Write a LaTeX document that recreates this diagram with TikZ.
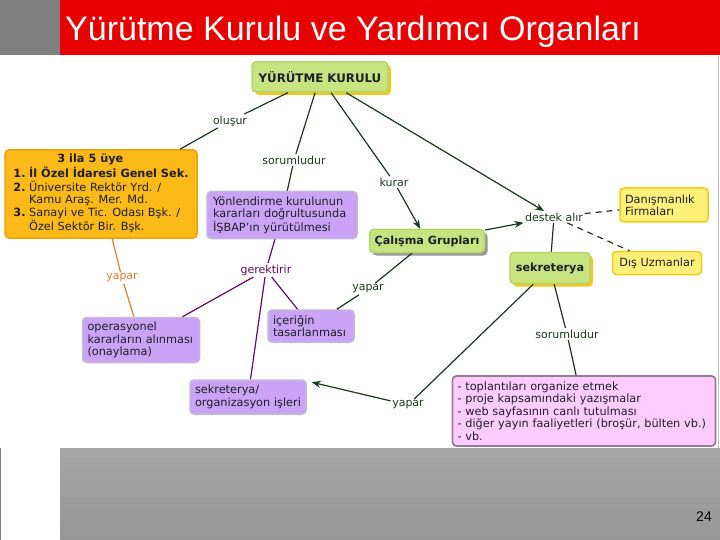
\documentclass[tikz,border=0pt]{standalone}
\usepackage{fontspec}
\setmainfont{DejaVu Sans}
\newfontfamily\titlefont{Liberation Sans}
\usetikzlibrary{arrows.meta,shadows}
\definecolor{hdrred}{RGB}{232,0,0}
\definecolor{hdrgray}{RGB}{128,128,128}
\definecolor{edgegray}{RGB}{190,190,190}
\definecolor{ftop}{RGB}{166,166,166}
\definecolor{fbot}{RGB}{150,150,150}
\definecolor{grnfill}{RGB}{200,228,128}
\definecolor{grndraw}{RGB}{182,212,104}
\definecolor{shyel}{RGB}{242,200,30}
\definecolor{shgray}{RGB}{150,150,150}
\definecolor{gldfill}{RGB}{251,186,24}
\definecolor{glddraw}{RGB}{238,160,10}
\definecolor{purfill}{RGB}{202,162,246}
\definecolor{purdraw}{RGB}{196,184,214}
\definecolor{yelfill}{RGB}{255,240,122}
\definecolor{yeldraw}{RGB}{244,204,20}
\definecolor{pinkfill}{RGB}{255,204,255}
\definecolor{pinkdraw}{RGB}{150,122,150}
\definecolor{lnk}{RGB}{26,56,26}
\definecolor{lnkpur}{RGB}{100,10,100}
\definecolor{lnkor}{RGB}{232,122,40}
\definecolor{txt}{RGB}{30,30,40}
\tikzset{
  box/.style={rounded corners=4pt, line width=1.5pt, inner sep=0pt, text=txt,
    font=\fontsize{11.3}{12.4}\selectfont},
  grnbox/.style={box, fill=grnfill, draw=grndraw, font=\bfseries\fontsize{11.2}{12.4}\selectfont},
  yshad/.style={drop shadow={shadow xshift=3pt, shadow yshift=-3pt, fill=shyel, opacity=1}},
  gshad/.style={drop shadow={shadow xshift=3pt, shadow yshift=-3pt, fill=shgray, opacity=1}},
  purbox/.style={box, fill=purfill, draw=purdraw, align=left},
  yelbox/.style={box, fill=yelfill, draw=yeldraw, align=left},
  lbl/.style={inner sep=1.5pt, text=lnk, font=\fontsize{11}{12}\selectfont},
  ln/.style={draw=lnk, line width=1.2pt},
  lnp/.style={draw=lnkpur, line width=1.2pt},
  lno/.style={draw=lnkor, line width=1.2pt},
  arr/.style={ln, -{Stealth[length=9pt,width=7pt]}},
  dsh/.style={ln, dash pattern=on 6pt off 5pt},
}
\begin{document}
\begin{tikzpicture}[x=1pt,y=-1pt]
\useasboundingbox (0,0) rectangle (720,540);
\fill[white] (0,0) rectangle (720,540);
% header
\fill[hdrgray] (0,0) rectangle (60,55);
\fill[hdrred] (60,0) rectangle (720,55);
\node[anchor=base west, text=white, inner sep=0pt, font=\titlefont\fontsize{34}{38}\selectfont] (title) at (65,41) {Yürütme Kurulu ve Yardımcı Organları};
% footer
\shade[top color=ftop, bottom color=fbot] (60,448) rectangle (720,540);
\draw[hdrgray, line width=0.8pt] (0.5,448) -- (0.5,540);
\draw[edgegray, line width=0.8pt] (718.5,56) -- (718.5,448);
\node[anchor=base east, inner sep=0pt, font=\titlefont\fontsize{14}{16}\selectfont] (pnum) at (712,521) {24};

% nodes
\node[grnbox, yshad, minimum width=136pt, minimum height=30pt, font=\bfseries\fontsize{11.8}{13}\selectfont] (yk) at (320,77) {YÜRÜTME KURULU};
\node[box, fill=gldfill, draw=glddraw, minimum width=192pt, minimum height=88pt] (uye) at (101,194)
 {\begin{tabular}{@{}l@{\ }l@{}}
  \multicolumn{2}{@{}l@{}}{\hspace{44pt}\textbf{3 ila 5 üye}}\\
  \textbf{1.}&\textbf{İl Özel İdaresi Genel Sek.}\\
  \textbf{2.}&Üniversite Rektör Yrd. /\\
   &Kamu Araş. Mer. Md.\\
  \textbf{3.}&Sanayi ve Tic. Odası Bşk. /\\
   &Özel Sektör Bir. Bşk.
  \end{tabular}};
\node[purbox, minimum width=150pt, minimum height=47pt, text width=138pt] (yon) at (282,215)
 {Yönlendirme kurulunun\\kararları doğrultusunda\\İŞBAP'ın yürütülmesi};
\node[grnbox, gshad, minimum width=115pt, minimum height=23pt] (cal) at (427,241) {Çalışma Grupları};
\node[grnbox, yshad, minimum width=80pt, minimum height=31pt] (sek) at (550,268) {sekreterya};
\node[yelbox, minimum width=88pt, minimum height=34pt, text width=78pt] (dan) at (664,205) {Danışmanlık\\Firmaları};
\node[yelbox, minimum width=89pt, minimum height=23pt, align=center] (dis) at (657,263) {Dış Uzmanlar};
\node[purbox, minimum width=117pt, minimum height=45pt, text width=107pt] (ope) at (141,340)
 {operasyonel\\kararların alınması\\(onaylama)};
\node[purbox, minimum width=86pt, minimum height=32pt, text width=76pt] (ice) at (311,326) {içeriğin\\tasarlanması};
\node[purbox, minimum width=116pt, minimum height=34pt, text width=106pt] (org) at (248,397) {sekreterya/\\organizasyon işleri};
\node[box, fill=pinkfill, draw=pinkdraw, align=left, minimum width=263pt, minimum height=70pt, text width=253pt, line width=1.8pt] (pink) at (584,411)
 {- toplantıları organize etmek\\
  - proje kapsamındaki yazışmalar\\
  - web sayfasının canlı tutulması\\
  - diğer yayın faaliyetleri (broşür, bülten vb.)\\
  - vb.};

% link labels
\node[lbl] (olusur) at (230,121) {oluşur};
\node[lbl] (sorum1) at (294,160) {sorumludur};
\node[lbl] (kurar) at (394,182) {kurar};
\node[lbl] (destek) at (554,217) {destek alır};
\node[lbl, text=lnkor] (yapar1) at (122,278) {yapar};
\node[lbl, text=lnkpur] (gerek) at (266,270) {gerektirir};
\node[lbl] (yapar2) at (368,289) {yapar};
\node[lbl] (sorum2) at (567,334) {sorumludur};
\node[lbl] (yapar3) at (408,405) {yapar};

% connectors
\draw[ln] (yk) -- (olusur);
\draw[ln] (olusur) -- (uye);
\draw[ln] (yk) -- (sorum1);
\draw[ln] (sorum1) -- (yon);
\draw[ln] (yk) -- (kurar);
\draw[arr] (kurar) -- (cal);
\draw[arr] (yk) -- (destek);
\draw[arr] (cal) -- (destek);
\draw[ln] (sek) -- (destek);
\draw[dsh] (destek) -- (dan);
\draw[dsh] (destek) -- (dis);
\draw[lno] (uye) -- (yapar1);
\draw[lno] (yapar1) -- (ope);
\draw[lnp] (yon) -- (gerek);
\draw[lnp] (gerek) -- (ope);
\draw[lnp] (gerek) -- (ice);
\draw[lnp] (gerek) -- (org);
\draw[ln] (cal) -- (yapar2);
\draw[ln] (yapar2) -- (ice);
\draw[ln] (sek) -- (sorum2);
\draw[ln] (sorum2) -- (pink);
\draw[ln] (sek) -- (yapar3);
\draw[arr] (yapar3) -- ([shift={(5,3)}]org.north east);
\end{tikzpicture}
\end{document}
